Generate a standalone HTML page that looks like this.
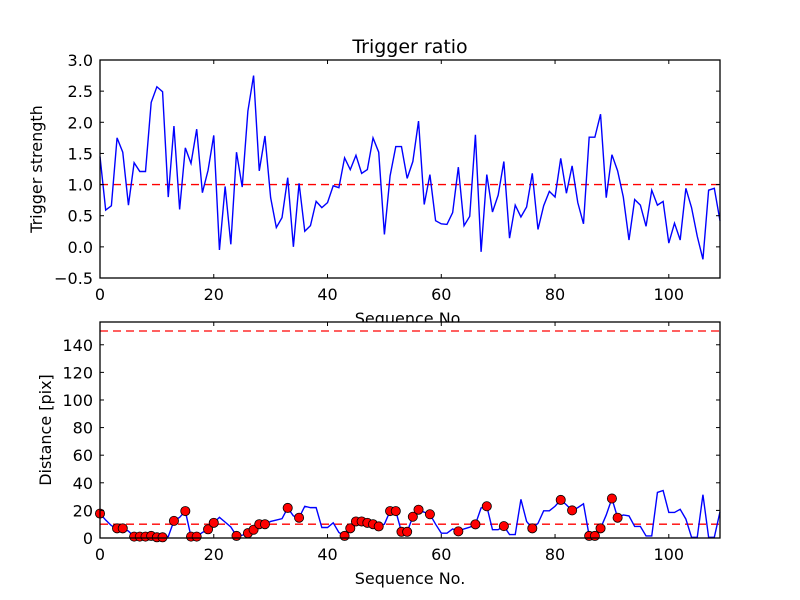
<!DOCTYPE html>
<html><head><meta charset="utf-8"><style>
body{margin:0;background:#fff}
svg{display:block;font-family:"DejaVu Sans","Liberation Sans",sans-serif}
</style></head><body>
<svg id="c" width="800" height="600"></svg>
<script>
const topValues=[1.45,0.59,0.66,1.75,1.52,0.67,1.35,1.21,1.21,2.32,2.57,2.49,0.80,1.94,0.60,1.59,1.34,1.89,0.87,1.23,1.79,-0.05,0.97,0.04,1.52,0.96,2.18,2.75,1.22,1.78,0.79,0.31,0.47,1.11,0.0,1.02,0.25,0.34,0.73,0.63,0.71,0.98,0.95,1.43,1.24,1.47,1.18,1.24,1.75,1.52,0.20,1.14,1.61,1.61,1.10,1.37,2.02,0.68,1.16,0.42,0.37,0.36,0.55,1.28,0.34,0.49,1.80,-0.08,1.16,0.56,0.83,1.37,0.14,0.67,0.48,0.64,1.18,0.28,0.66,0.89,0.80,1.42,0.86,1.30,0.71,0.37,1.76,1.76,2.13,0.79,1.48,1.22,0.80,0.11,0.76,0.67,0.33,0.91,0.67,0.73,0.06,0.38,0.11,0.94,0.63,0.17,-0.20,0.91,0.94,0.42];
const distValues=[17.7,13,9,7,7,5,1,1,1,1.5,0.5,0.5,1,12.4,15,19.5,1,1,4,6.3,11,15,11.5,8,1.5,2,3.5,6,10,10,12,13,14,21.8,16,14.7,23,22,22,7.6,7.6,11,4,1.5,7,12,12,11,10,8.4,10,19.5,19.5,4.5,4.5,15.4,20.5,18.7,17.2,10,3.5,3.5,6.6,4.8,6.6,7.8,9.9,21.8,23,6,6,8.6,2.5,2.5,28,12,7,10.6,19.7,19.7,23,27.6,24,20,22,24.8,1.5,1.5,7,16.7,28.6,14.7,16.7,16,8.4,8.4,1.5,1.5,33,34.4,18.5,18.5,20.8,13.7,0.5,0.5,31.4,0.5,0.5,19];
const markerIdx=[0,3,4,6,7,8,9,10,11,13,15,16,17,19,20,24,26,27,28,29,33,35,43,44,45,46,47,48,49,51,52,53,54,55,56,58,63,66,68,71,76,81,83,86,87,88,90,91];
const xTicks=[0,20,40,60,80,100];
const topYTicks=[-0.5,0,0.5,1,1.5,2,2.5,3];
const botYTicks=[0,20,40,60,80,100,120,140];
const topThreshold=1.0, botThresholds=[10,150];

const NS="http://www.w3.org/2000/svg", svg=document.getElementById('c');
function mk(t,a,p){const e=document.createElementNS(NS,t);for(const k in a)e.setAttribute(k,a[k]);(p||svg).appendChild(e);return e;}
function txt(s,a){const e=mk('text',a);e.textContent=s;return e;}
function fmt(v,dec){let s=dec?v.toFixed(1):String(v);return s.replace('-','\u2212');}

function axes(o){
  const {L,R,T,B,ymin,ymax,name}=o;
  const xs=v=>L+(v-0)/(109-0)*(R-L);
  const ys=v=>B-(v-ymin)/(ymax-ymin)*(B-T);
  const g=mk('g',{});
  
  
  mk('rect',{x:L,y:T,width:R-L,height:B-T,fill:'#fff'},g);
  return {xs,ys,g,L,R,T,B};
}
function frame(a,yt,dec,name){
  const {g,L,R,T,B,xs,ys}=a;
  xTicks.forEach(v=>{const x=xs(v);
    mk('line',{x1:x,x2:x,y1:B,y2:B-4,stroke:'#000'},g);mk('line',{x1:x,x2:x,y1:T,y2:T+4,stroke:'#000'},g);
    const t=txt(String(v),{x:x,y:B+22,'text-anchor':'middle','font-size':16});
    });
  yt.forEach(v=>{const y=ys(v);
    mk('line',{x1:L,x2:L+4,y1:y,y2:y,stroke:'#000'},g);mk('line',{x1:R,x2:R-4,y1:y,y2:y,stroke:'#000'},g);
    const t=txt(fmt(v,dec),{x:L-7,y:y+6,'text-anchor':'end','font-size':16});
    });
  mk('rect',{x:L,y:T,width:R-L,height:B-T,fill:'none',stroke:'#000','stroke-width':1.3},g);
}

// Top
const A=axes({L:100,R:720,T:60,B:278,ymin:-0.5,ymax:3.0,name:'trigger-axes'});
const thr=mk('line',{x1:A.L,x2:A.R,y1:A.ys(topThreshold),y2:A.ys(topThreshold),stroke:'#f00','stroke-width':1.3,'stroke-dasharray':'8,5'},A.g);

const p1=mk('polyline',{points:topValues.map((v,i)=>A.xs(i)+','+A.ys(v)).join(' '),fill:'none',stroke:'#00f','stroke-width':1.4},A.g);

frame(A,topYTicks,true,'trigger');
let t=txt('Trigger ratio',{x:410,y:53,'text-anchor':'middle','font-size':19});

t=txt('Trigger strength',{x:42,y:169,'text-anchor':'middle','font-size':16,transform:'rotate(-90 42 169)'});

t=txt('Sequence No.',{x:410,y:324,'text-anchor':'middle','font-size':16});


// Bottom
const Bx=axes({L:100,R:720,T:322,B:538,ymin:0,ymax:156.5,name:'distance-axes'});
botThresholds.forEach(v=>{const l=mk('line',{x1:Bx.L,x2:Bx.R,y1:Bx.ys(v),y2:Bx.ys(v),stroke:'#f00','stroke-width':1.3,'stroke-dasharray':'8,5'},Bx.g);
  });
const p2=mk('polyline',{points:distValues.map((v,i)=>Bx.xs(i)+','+Bx.ys(v)).join(' '),fill:'none',stroke:'#00f','stroke-width':1.4},Bx.g);

markerIdx.forEach(i=>{const c=mk('circle',{cx:Bx.xs(i),cy:Bx.ys(distValues[i]),r:4.6,fill:'#f00',stroke:'#000','stroke-width':0.8},Bx.g);
  });
frame(Bx,botYTicks,false,'distance');
t=txt('Distance [pix]',{x:51,y:430,'text-anchor':'middle','font-size':16,transform:'rotate(-90 51 430)'});

t=txt('Sequence No.',{x:410,y:584,'text-anchor':'middle','font-size':16});

</script>
</body></html>
